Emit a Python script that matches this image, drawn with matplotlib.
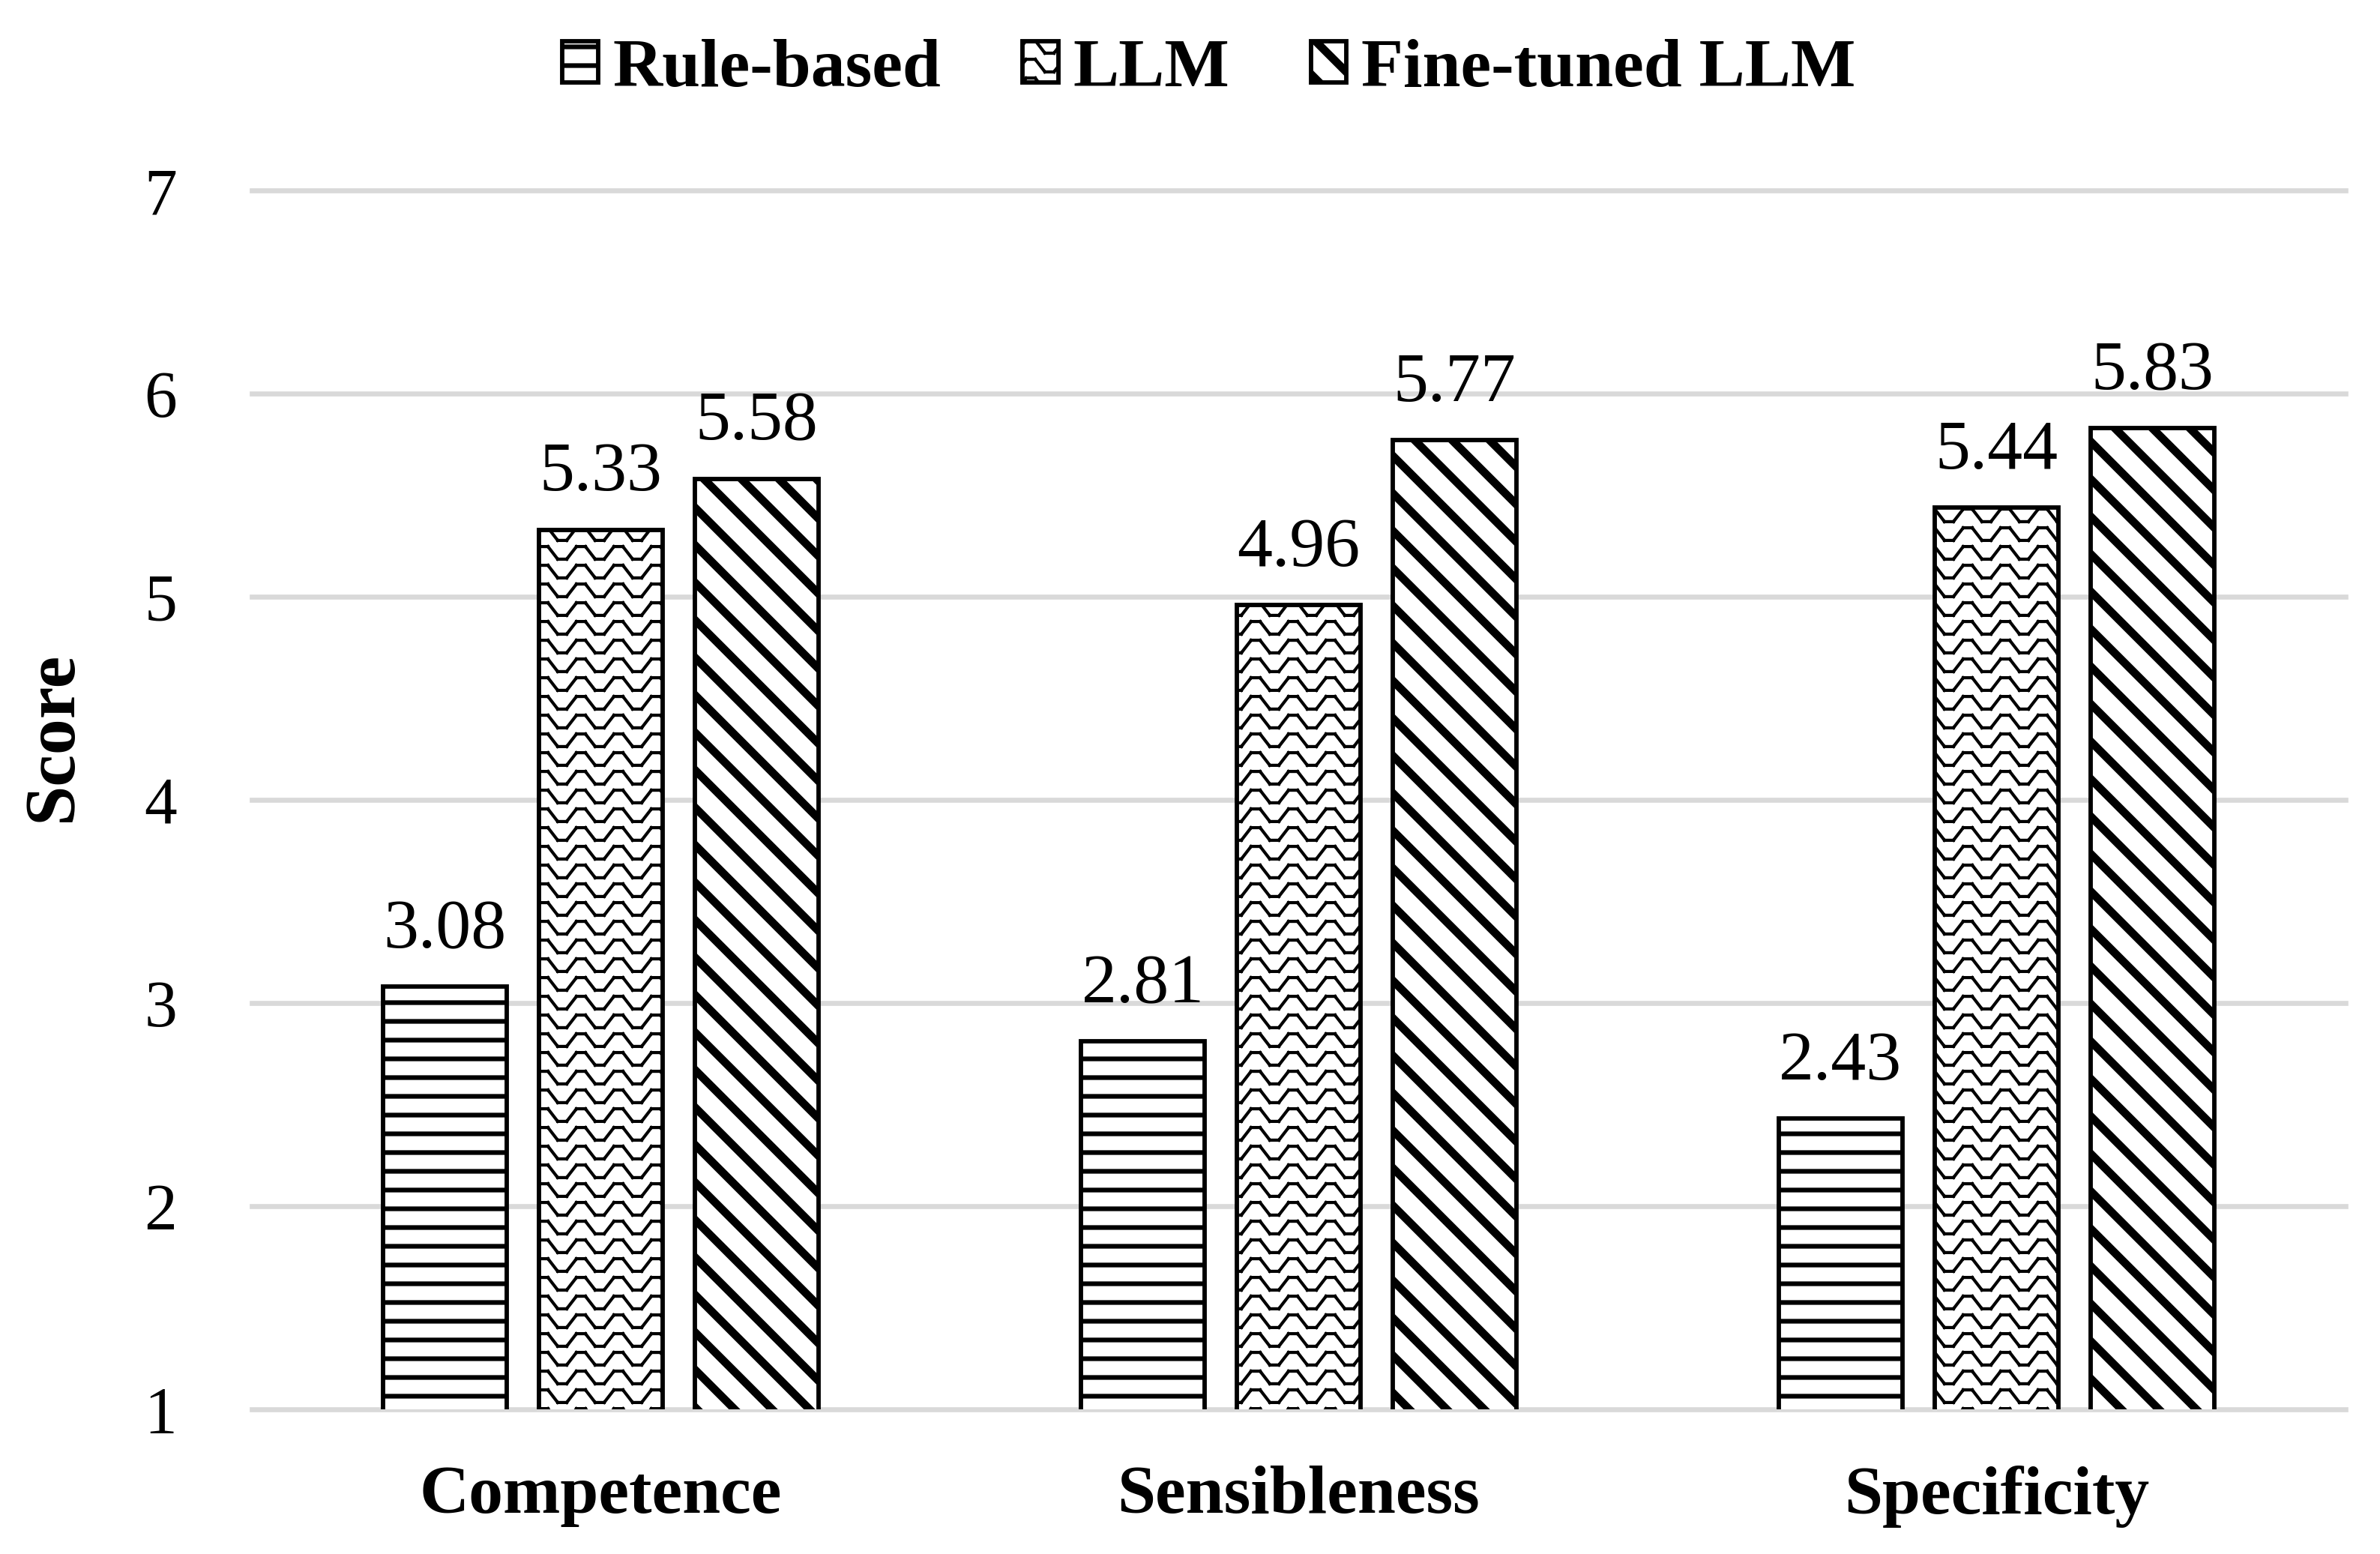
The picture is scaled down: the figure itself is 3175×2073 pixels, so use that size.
import warnings
import numpy as np
import matplotlib
matplotlib.use("Agg")
import matplotlib.pyplot as plt
import matplotlib.hatch as mhatch
from matplotlib.path import Path

# Data
categories = ["Competence", "Sensibleness", "Specificity"]
series_names = ["Rule-based", "LLM", "Fine-tuned LLM"]
rule_based = [3.08, 2.81, 2.43]
llm = [5.33, 4.96, 5.44]
fine_tuned = [5.58, 5.77, 5.83]
y_ticks = [1, 2, 3, 4, 5, 6, 7]


class ZigZagHatch(mhatch.HatchPatternBase):
    # wavy rows, used for the 'z' hatch character.
    # agg fills hatch paths too, so every segment is its own 2-point subpath
    def __init__(self, hatch, density):
        self.num_rows = hatch.count('z') * density * 2
        self.teeth = density
        self.segs = 4 * self.teeth + 1
        self.num_vertices = self.num_rows * self.segs * 2

    def set_vertices_and_codes(self, vertices, codes):
        amp = 0.028
        xs = [0.0]
        ys = [-amp]
        for k in range(self.teeth):
            for f, s in ((0.12, -1), (0.38, 1), (0.62, 1), (0.88, -1)):
                xs.append((k + f) / self.teeth)
                ys.append(s * amp)
        xs.append(1.0)
        ys.append(-amp)
        xs = np.array(xs)
        ys = np.array(ys)
        n = self.segs * 2
        for r in range(self.num_rows):
            y0 = (r + 0.5) / self.num_rows
            a = r * n
            vertices[a:a + n:2, 0] = xs[:-1]
            vertices[a:a + n:2, 1] = y0 + ys[:-1]
            vertices[a + 1:a + n:2, 0] = xs[1:]
            vertices[a + 1:a + n:2, 1] = y0 + ys[1:]
            codes[a:a + n:2] = Path.MOVETO
            codes[a + 1:a + n:2] = Path.LINETO


mhatch._hatch_types.append(ZigZagHatch)
mhatch._validate_hatch_pattern = lambda hatch: None
warnings.filterwarnings("ignore")

plt.rcParams['font.family'] = ['Liberation Serif', 'DejaVu Serif']

W, H = 3175, 2073
fig = plt.figure(figsize=(W / 300, H / 300), dpi=300)
ax = fig.add_axes([336 / W, 1 - 1880 / H, (3129 - 336) / W, (1880 - 254) / H])

x = np.arange(len(categories))
width = 0.178
step = 0.2235
series = [rule_based, llm, fine_tuned]
styles = [('--', 1.5), ('z', 1.0), ('\\\\', 2.6)]

containers = []
for i, (vals, name, (hatch, hlw)) in enumerate(zip(series, series_names, styles)):
    plt.rcParams['hatch.linewidth'] = hlw
    bars = ax.bar(x + (i - 1) * step, vals, width, color='white',
                  edgecolor='black', linewidth=1.4, hatch=hatch,
                  label=name, zorder=3)
    for b in bars:
        if hasattr(b, 'set_hatch_linewidth'):
            b.set_hatch_linewidth(hlw)
    containers.append(bars)
    for xi, v in zip(x + (i - 1) * step, vals):
        ax.annotate(f"{v:.2f}", xy=(xi, v), xytext=(0, 12.5),
                    textcoords='offset points', ha='center', va='baseline',
                    fontsize=22.5)

ax.set_xlim(-0.5, len(categories) - 0.5)
ax.set_ylim(1, 7)
ax.set_yticks(y_ticks)
ax.set_xticks(x)
ax.set_xticklabels(categories, fontweight='bold', fontsize=22)
ax.tick_params(axis='both', length=0)
ax.tick_params(axis='y', pad=24, labelsize=21)
ax.tick_params(axis='x', pad=18)
ax.set_axisbelow(True)
ax.yaxis.grid(True, color='#d9d9d9', linewidth=1.6)
for gl in ax.get_ygridlines():
    gl.set_clip_on(False)
for s in ax.spines.values():
    s.set_visible(False)

fig.text(72 / W, 1 - 982 / H, "Score", rotation=90, ha='center', va='center',
         fontsize=23, fontweight='bold')

leg = fig.legend(handles=containers, labels=series_names, loc='center',
                 bbox_to_anchor=(0.508, 0.955), ncol=3, frameon=False,
                 prop=dict(family='Liberation Serif', weight='bold', size=22),
                 handlelength=0.52, handleheight=0.55, handletextpad=0.22,
                 columnspacing=1.18)
for h, (hatch, hlw) in zip(leg.get_patches(), styles):
    if hasattr(h, 'set_hatch_linewidth'):
        h.set_hatch_linewidth(hlw)

fig.savefig("out.png", dpi=300)
